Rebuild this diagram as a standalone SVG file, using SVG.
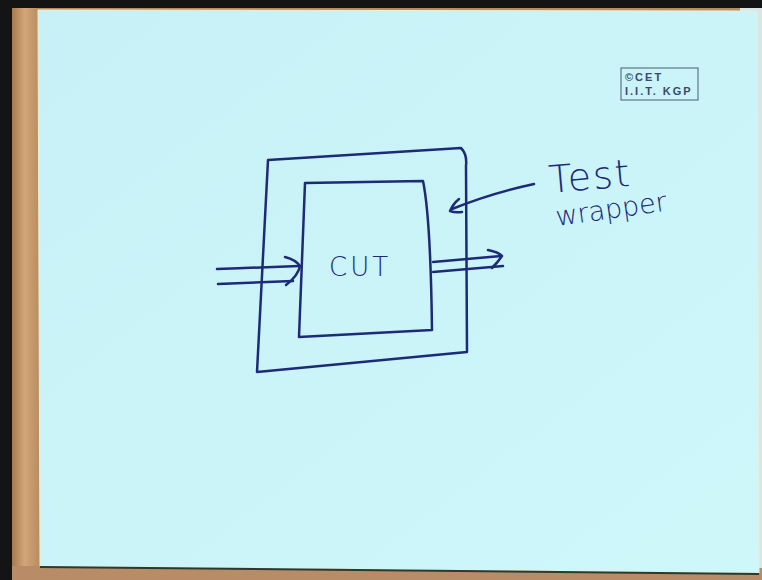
<svg xmlns="http://www.w3.org/2000/svg" width="762" height="580" viewBox="0 0 762 580">
<defs>
<style>
.ink{fill:none;stroke:#1c2a78;stroke-width:2.5;stroke-linecap:round;stroke-linejoin:round}
.hand{fill:#1c2a78;font-family:"DejaVu Sans","Liberation Sans",sans-serif;font-weight:200}
.logo{fill:#3a4a6a;font-family:"Liberation Sans",Arial,sans-serif;font-weight:bold;font-size:11px;letter-spacing:2px}
</style>
<linearGradient id="wood" gradientUnits="userSpaceOnUse" x1="12" y1="0" x2="40" y2="0">
<stop offset="0" stop-color="#a67a4e"/>
<stop offset="0.45" stop-color="#d2a679"/>
<stop offset="1" stop-color="#b98b5e"/>
</linearGradient>
<linearGradient id="paper" x1="0" y1="0" x2="1" y2="1">
<stop offset="0" stop-color="#c7f1f6"/>
<stop offset="1" stop-color="#cdf7f9"/>
</linearGradient>
</defs>
<!-- surroundings -->
<rect x="0" y="0" width="762" height="580" fill="#141414"/>
<rect x="12" y="8" width="750" height="572" fill="url(#wood)"/>
<rect x="12" y="566" width="750" height="14" fill="#b88c66"/>
<rect x="740" y="8" width="22" height="560" fill="#d9e6e6"/>
<!-- paper -->
<polygon points="38,10 757,11 759,573 40,566" fill="url(#paper)" stroke="#e8f0d8" stroke-width="1"/>
<line x1="40" y1="567" x2="759" y2="574" stroke="#2a3a30" stroke-width="2"/>
<!-- logo -->
<g id="logo">
<rect x="621" y="68" width="77" height="32" fill="none" stroke="#4a5a70" stroke-width="1"/>
<text class="logo" x="625" y="81">©CET</text>
<text class="logo" x="625" y="95">I.I.T. KGP</text>
</g>
<!-- nodes -->
<g id="test-wrapper">
<path class="ink" d="M268,160 L461,148 C464,151 467,157 466,166 L467,352 L257,372 Z"/>
</g>
<g id="cut">
<path class="ink" d="M305,183 L423,181 C428,205 431,250 432,330 L299,337 Z"/>
<text class="hand" x="329" y="276" font-size="26" letter-spacing="3">CUT</text>
</g>
<g id="label">
<text class="hand" x="550" y="193" font-size="38" letter-spacing="2" transform="rotate(-5 550 193)">Test</text>
<text class="hand" x="557" y="226" font-size="27" transform="rotate(-8 557 226)">wrapper</text>
</g>
<!-- connectors -->
<g id="connectors">
<path class="ink" d="M217,269 C245,268 275,267 299,266"/>
<path class="ink" d="M218,284 C245,283 270,282 293,281"/>
<path class="ink" d="M285,257 Q296,260 300,266 Q298,276 286,285"/>
<path class="ink" d="M433,262 L501,256"/>
<path class="ink" d="M433,272 L503,266"/>
<path class="ink" d="M488,250 Q498,252 502,256 Q498,262 492,268"/>
<path class="ink" d="M534,184 Q492,193 452,209"/>
<path class="ink" d="M459,199 Q453,204 450,211 Q455,213 462,212"/>
</g>
</svg>
